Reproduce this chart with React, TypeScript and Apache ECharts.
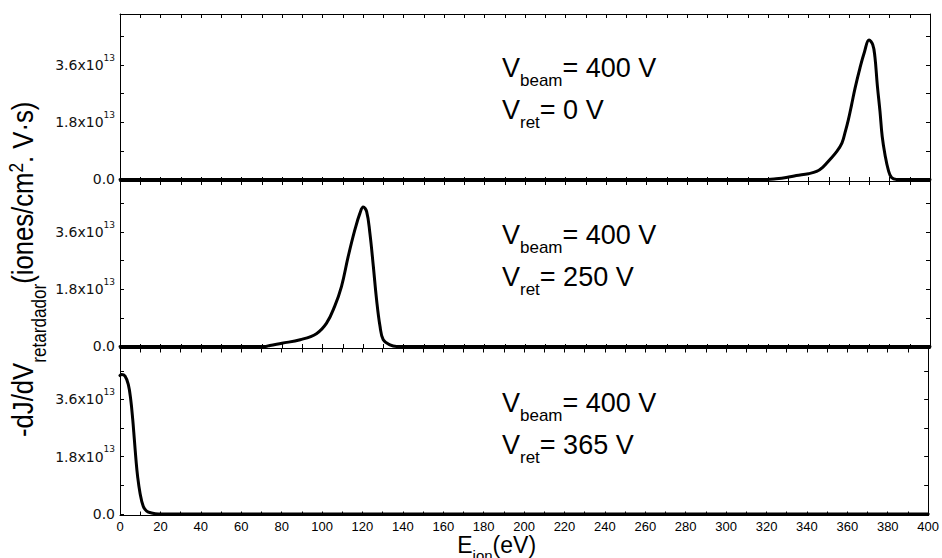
import React, { useEffect, useRef } from 'react';
import * as echarts from 'echarts';

// Panel 1: V_ret = 0 V
const energy1 = [0, 320, 324, 329, 334, 340, 344, 347, 350.5, 354, 356.5, 358, 359.7, 361.3, 363, 365.4, 367.6, 369.9, 371.7, 372.8, 374, 375.3, 376.4, 377.8, 379.4, 381, 383.5, 400];
const signal1 = [0, 0, 0.02, 0.06, 0.12, 0.18, 0.25, 0.38, 0.62, 0.88, 1.14, 1.46, 1.88, 2.35, 2.87, 3.5, 4.0, 4.38, 4.24, 3.85, 2.95, 2.14, 1.35, 0.77, 0.3, 0.06, 0, 0];

// Panel 2: V_ret = 250 V
const energy2 = [0, 72, 74, 80, 89, 97, 102, 106, 109.4, 112.7, 116, 118.5, 120.1, 121.8, 123.4, 125.1, 126.7, 128.4, 130, 133.3, 136.6, 400];
const signal2 = [0, 0, 0.03, 0.1, 0.21, 0.4, 0.73, 1.26, 1.89, 2.83, 3.67, 4.19, 4.38, 4.24, 3.56, 2.52, 1.47, 0.63, 0.21, 0.05, 0, 0];

// Panel 3: V_ret = 365 V
const energy3 = [0, 0.8, 2.5, 4.1, 5.3, 6.3, 7.1, 7.9, 8.7, 9.9, 11.5, 13.2, 15.6, 19, 400];
const signal3 = [4.35, 4.38, 4.33, 4.07, 3.6, 2.97, 2.34, 1.71, 1.19, 0.66, 0.24, 0.09, 0.03, 0, 0];

const beamVoltages = ['400', '400', '400'];
const retVoltages = ['0', '250', '365'];

// y values in units of 1e13
const yLabelValues = [0, 1.8, 3.6];
const yTickValues = [0, 0.9, 1.8, 2.7, 3.6, 4.5];
const xMin = 0;
const xMax = 400;
const xStep = 20;
const yMin = -0.05;
const yMax = 5.2;

const SANS = 'Liberation Sans';

export default function App() {
  const ref = useRef<HTMLDivElement>(null);

  useEffect(() => {
    if (!ref.current) return;
    const chart = echarts.init(ref.current, undefined, { renderer: 'svg' });

    const energies = [energy1, energy2, energy3];
    const signals = [signal1, signal2, signal3];
    const gridTops = [14, 181, 348.5];
    const gridH = 167;

    const grids = gridTops.map((t) => ({ left: 120, right: 12, top: t, height: gridH }));

    const tickStyle = { color: '#000', width: 1 };
    const xAxes: any[] = [];
    const yAxes: any[] = [];
    for (let i = 0; i < 3; i++) {
      ['bottom', 'top'].forEach((pos) => {
        xAxes.push({
          gridIndex: i,
          type: 'value',
          position: pos,
          min: xMin,
          max: xMax,
          interval: xStep,
          axisLine: { show: true, onZero: false, lineStyle: { color: '#000', width: 1 } },
          axisTick: { show: true, inside: true, length: 4, lineStyle: tickStyle },
          minorTick: { show: true, splitNumber: 2, length: 4, lineStyle: tickStyle },
          splitLine: { show: false },
          minorSplitLine: { show: false },
          axisLabel: {
            show: i === 2 && pos === 'bottom',
            margin: 4,
            fontFamily: SANS,
            fontSize: 13,
            lineHeight: 13,
            color: '#000',
          },
        });
      });
      ['left', 'right'].forEach((pos) => {
        yAxes.push({
          gridIndex: i,
          type: 'value',
          position: pos,
          min: yMin,
          max: yMax,
          axisLine: { show: true, onZero: false, lineStyle: { color: '#000', width: 1 } },
          axisTick: { show: true, inside: true, length: 4, lineStyle: tickStyle, customValues: yTickValues },
          splitLine: { show: false },
          axisLabel: {
            show: pos === 'left',
            customValues: yLabelValues,
            margin: 5,
            formatter: (v: number) => (v === 0 ? '{b|0.0}' : `{b|${v.toFixed(1)}x10}{sup|13}`),
            rich: {
              b: { fontFamily: 'DejaVu Sans', fontSize: 14, color: '#111', lineHeight: 24 },
              sup: { fontFamily: 'DejaVu Sans', fontSize: 9, color: '#111', verticalAlign: 'top', height: 9.2 },
            },
          },
        });
      });
    }

    const series = signals.map((s, i) => ({
      type: 'line',
      xAxisIndex: i * 2,
      yAxisIndex: i * 2,
      data: energies[i].map((e, k) => [e, s[k]]),
      showSymbol: false,
      symbol: 'none',
      smooth: 0.4,
      lineStyle: { color: '#000', width: 3, join: 'round', cap: 'round' },
    }));

    const annotRich = {
      m: { fontFamily: SANS, fontSize: 27, fill: '#000', lineHeight: 42 },
      s: { fontFamily: SANS, fontSize: 17, fill: '#000', verticalAlign: 'bottom', height: 17 },
    };

    const annotations = gridTops.map((t, i) => ({
      type: 'text',
      x: 502,
      y: 47 + (t - gridTops[0]),
      silent: true,
      style: {
        text: `{m|V}{s|beam}{m|= ${beamVoltages[i]} V}\n{m|V}{s|ret}{m|= ${retVoltages[i]} V}`,
        align: 'left',
        verticalAlign: 'top',
        rich: annotRich,
      },
    }));

    // x-axis title pieces: E (23px), ion (15px subscript), (eV) (23px)
    const xtX = 457.3;
    const xtY = 545;
    const xTitle = [
      { type: 'text', x: xtX, y: xtY, silent: true, style: { text: 'E', fontFamily: SANS, fontSize: 23, lineHeight: 17, fill: '#000', align: 'left', verticalAlign: 'middle' } },
      { type: 'text', x: xtX + 15.3, y: xtY + 10, silent: true, style: { text: 'ion', fontFamily: SANS, fontSize: 15, lineHeight: 6, fill: '#000', align: 'left', verticalAlign: 'middle' } },
      { type: 'text', x: xtX + 35.3, y: xtY, silent: true, style: { text: '(eV)', fontFamily: SANS, fontSize: 23, lineHeight: 17, fill: '#000', align: 'left', verticalAlign: 'middle' } },
    ];

    const option: any = {
      animation: false,
      backgroundColor: '#fff',
      grid: grids,
      xAxis: xAxes,
      yAxis: yAxes,
      series,
      graphic: [
        ...annotations,
        ...xTitle,
        {
          type: 'text',
          x: 23,
          y: 437,
          rotation: Math.PI / 2,
          scaleX: 1.07,
          scaleY: 1.22,
          silent: true,
          style: {
            text: '{m|-dJ/dV}{s|retardador}{m|(iones/cm}{p|2}{m|. V·s)}',
            align: 'left',
            verticalAlign: 'middle',
            rich: {
              m: { fontFamily: SANS, fontSize: 24, fill: '#000', lineHeight: 40 },
              s: { fontFamily: SANS, fontSize: 16, fill: '#000', verticalAlign: 'bottom', height: 14.4 },
              p: { fontFamily: SANS, fontSize: 16, fill: '#000', verticalAlign: 'top', height: 29 },
            },
          },
        },
      ],
    };

    chart.setOption(option);
    return () => chart.dispose();
  }, []);

  return (
    <div
      ref={ref}
      style={{ position: 'fixed', left: 0, top: 0, width: 942, height: 558, background: '#fff' }}
    />
  );
}
